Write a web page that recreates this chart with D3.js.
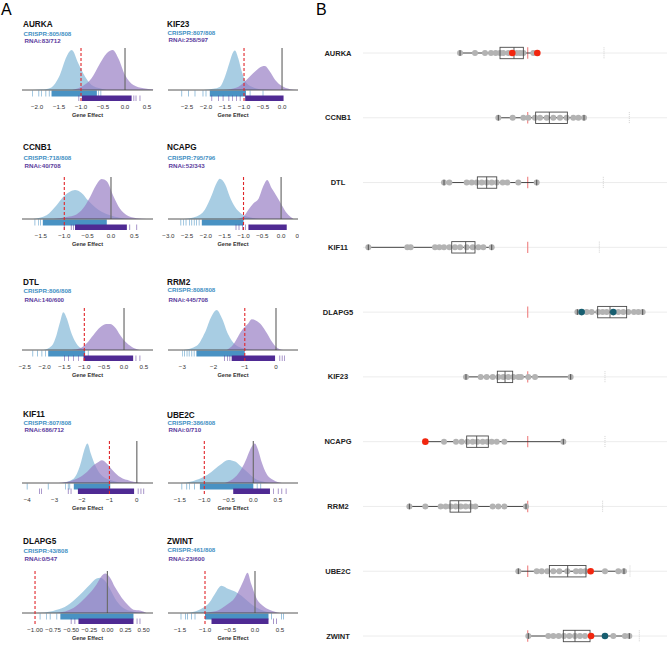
<!DOCTYPE html>
<html><head><meta charset="utf-8">
<script src="https://cdn.jsdelivr.net/npm/d3@7"></script>
<style>body{margin:0;background:#fff} svg{display:block;font-family:"Liberation Sans",Arial,sans-serif}</style>
</head><body><svg id="c" width="669" height="645"></svg>
<script>
// ---------------- Panel A data ----------------
const genesA = ["AURKA","KIF23","CCNB1","NCAPG","DTL","RRM2","KIF11","UBE2C","DLAPG5","ZWINT"];
const crisprCounts = ["805/808","807/808","718/808","795/796","806/808","808/808","807/808","386/808","43/808","461/808"];
const rnaiCounts = ["83/712","258/597","40/708","52/343","140/600","445/708","686/712","0/710","0/547","23/600"];
const xDomains = [[-2.341,0.636],[-3.0,0.42],[-1.906,0.9],[-3.01,0.45],[-2.57,0.73],[-3.46,0.705],[-4.19,0.59],[-1.741,0.912],[-1.18,0.63],[-1.74,0.86]];
const xTicks = [
  [-2,-1.5,-1,-0.5,0,0.5],[-2.5,-2,-1.5,-1,-0.5,0],[-1.5,-1,-0.5,0,0.5],[-3,-2.5,-2,-1.5,-1,-0.5,0,0.5],
  [-2.5,-2,-1.5,-1,-0.5,0,0.5],[-3,-2,-1,0],[-4,-3,-2,-1,0],[-1.5,-1,-0.5,0,0.5],
  [-1,-0.75,-0.5,-0.25,0,0.25,0.5],[-1.5,-1,-0.5,0,0.5]];
const tickFormats = [".1f",".1f",".1f",".1f",".1f","d","d",".1f",".2f",".1f"];
const thresholdA = -1;
const crisprDensity = [
  [[-2.1,0],[-1.9,0.01],[-1.7,0.05],[-1.48,0.36],[-1.33,0.79],[-1.21,0.95],[-1.06,0.63],[-0.91,0.32],[-0.76,0.12],[-0.57,0.04],[-0.42,0]],
  [[-2.07,0],[-1.81,0.03],[-1.63,0.08],[-1.5,0.32],[-1.39,0.63],[-1.28,0.91],[-1.24,0.94],[-1.15,0.75],[-1.06,0.44],[-0.93,0.16],[-0.75,0.06],[-0.49,0.01],[-0.14,0]],
  [[-1.67,0],[-1.38,0.09],[-1.17,0.32],[-1.03,0.52],[-0.88,0.65],[-0.77,0.69],[-0.63,0.62],[-0.49,0.44],[-0.34,0.28],[-0.2,0.17],[-0.02,0.09],[0.19,0.03],[0.41,0]],
  [[-2.6,0],[-2.25,0.06],[-2.03,0.22],[-1.85,0.56],[-1.71,0.87],[-1.63,0.96],[-1.49,0.83],[-1.36,0.52],[-1.23,0.29],[-1.05,0.12],[-0.83,0.04],[-0.56,0]],
  [[-2.03,0],[-1.82,0.1],[-1.7,0.36],[-1.61,0.67],[-1.53,0.9],[-1.44,0.75],[-1.34,0.44],[-1.23,0.2],[-1.11,0.06],[-0.86,0]],
  [[-2.97,0],[-2.54,0.1],[-2.28,0.41],[-2.06,0.81],[-1.9,0.95],[-1.74,0.77],[-1.53,0.37],[-1.31,0.13],[-1.05,0.04],[-0.73,0]],
  [[-2.74,0],[-2.31,0.1],[-2.07,0.42],[-1.92,0.78],[-1.8,0.94],[-1.68,0.7],[-1.52,0.42],[-1.34,0.22],[-1.09,0.1],[-0.85,0.05],[-0.49,0]],
  [[-1.5,0],[-1.22,0.05],[-1.02,0.14],[-0.85,0.27],[-0.68,0.43],[-0.51,0.55],[-0.37,0.51],[-0.24,0.38],[-0.1,0.24],[0.03,0.11],[0.17,0.04],[0.34,0]],
  [[-0.98,0],[-0.75,0.05],[-0.59,0.14],[-0.45,0.32],[-0.33,0.52],[-0.24,0.68],[-0.15,0.82],[-0.1,0.84],[-0.03,0.76],[0.04,0.56],[0.13,0.28],[0.22,0.12],[0.34,0.04],[0.45,0]],
  [[-1.37,0],[-1.17,0.05],[-1.03,0.13],[-0.9,0.27],[-0.8,0.46],[-0.67,0.65],[-0.53,0.57],[-0.4,0.51],[-0.27,0.41],[-0.13,0.27],[0,0.15],[0.13,0.07],[0.33,0]]
];
const rnaiDensity = [
  [[-1.2,0],[-0.95,0.1],[-0.76,0.28],[-0.57,0.63],[-0.42,0.87],[-0.28,0.95],[-0.15,0.75],[0,0.36],[0.19,0.12],[0.42,0.04],[0.64,0.01]],
  [[-1.54,0],[-1.19,0.06],[-0.97,0.21],[-0.84,0.33],[-0.71,0.44],[-0.53,0.56],[-0.45,0.57],[-0.32,0.44],[-0.18,0.24],[-0.01,0.1],[0.21,0.02],[0.39,0]],
  [[-1.24,0],[-0.95,0.05],[-0.74,0.11],[-0.6,0.25],[-0.45,0.52],[-0.31,0.82],[-0.2,0.95],[-0.09,0.9],[0.05,0.55],[0.19,0.25],[0.34,0.09],[0.55,0.02],[0.77,0]],
  [[-1.18,0],[-1.0,0.06],[-0.87,0.22],[-0.74,0.37],[-0.6,0.48],[-0.47,0.79],[-0.37,0.93],[-0.25,0.73],[-0.13,0.56],[0.02,0.33],[0.15,0.14],[0.33,0]],
  [[-1.32,0],[-1.11,0.04],[-0.94,0.16],[-0.77,0.36],[-0.6,0.54],[-0.44,0.62],[-0.35,0.62],[-0.23,0.54],[-0.1,0.36],[0.03,0.2],[0.19,0.08],[0.4,0]],
  [[-1.58,0],[-1.37,0.13],[-1.21,0.33],[-1.05,0.51],[-0.89,0.63],[-0.78,0.73],[-0.62,0.69],[-0.46,0.59],[-0.3,0.41],[-0.14,0.21],[0.02,0.06],[0.23,0]],
  [[-2.86,0],[-2.19,0.1],[-1.82,0.26],[-1.58,0.42],[-1.4,0.5],[-1.28,0.54],[-1.09,0.46],[-0.85,0.28],[-0.61,0.14],[-0.24,0.05],[0.24,0]],
  [[-0.58,0],[-0.37,0.14],[-0.24,0.34],[-0.14,0.58],[-0.07,0.78],[0.03,0.94],[0.1,0.78],[0.17,0.5],[0.27,0.22],[0.41,0.07],[0.58,0]],
  [[-0.7,0],[-0.47,0.12],[-0.33,0.32],[-0.24,0.48],[-0.15,0.68],[-0.08,0.88],[-0.03,0.94],[0.03,0.86],[0.11,0.6],[0.2,0.36],[0.29,0.18],[0.36,0.08],[0.45,0.06],[0.54,0]],
  [[-1.1,0],[-0.77,0.05],[-0.57,0.19],[-0.4,0.37],[-0.3,0.59],[-0.22,0.8],[-0.15,0.96],[-0.07,0.67],[0.03,0.35],[0.17,0.16],[0.3,0.07],[0.5,0]]
];
const crisprRugBand = [[-1.67,-0.64],[-1.9,-0.95],[-1.46,-0.09],[-2.11,-1.0],[-1.91,-0.98],[-2.55,-1.0],[-2.3,-0.97],[-1.09,0.0],[-0.65,0.36],[-1.0,0.27]];
const crisprRugTicks = [
  [-2.1,-1.96,-1.9,-1.8,-1.72,-0.6,-0.55],[-2.64,-2.46,-2.29,-2.08,-2.0,-0.84,-0.5],[-1.63,-1.55,-1.51],
  [-2.67,-2.6,-2.53,-2.44,-2.38,-2.31,-2.25,-2.18],[-2.3,-2.18,-2.07,-1.98,-0.9],[-3.0,-2.93,-2.85,-2.78,-2.7,-2.62],
  [-4.0,-3.23,-2.6,-2.5,-2.45],[-1.46,-1.36,-1.3,-1.2,0.08,0.15],[-0.93,-0.84,-0.79,-0.7],[-1.48,-1.39,-1.35,-1.27,-1.2,0.33,0.53,0.57]];
const rnaiRugBand = [[-0.98,0.15],[-0.97,0.04],[-0.77,0.34],[-0.87,0.15],[-1.02,0.23],[-1.42,-0.03],[-2.15,-0.1],[-0.41,0.34],[-0.4,0.36],[-0.87,0.27]];
const rnaiRugTicks = [
  [-1.05,0.2,0.25,0.34],[-1.85,-1.67,-1.55,-1.4,-1.3,-1.2,-1.1],[-1.0,-0.85,-0.8,0.4,0.55],[-1.2,-1.12,-1.03,-0.95],
  [-1.5,-1.4,-1.27,-1.15,0.3,0.4],[-1.65,-1.55,-1.48,0.12,0.2,0.27],[-3.55,-3.48,-2.5,-2.4,0.05,0.15,0.25],
  [0.41,0.51,0.58,0.67],[-0.5,-0.45,0.41,0.45],[0.37,0.43]];

// ---------------- Panel B data ----------------
const genesB = ["AURKA","CCNB1","DTL","KIF11","DLAPG5","KIF23","NCAPG","RRM2","UBE2C","ZWINT"];
const boxStats = [ // min, q1, median, q3, max
  [-1.887,-1.363,-1.18,-1.057,-0.874],[-1.385,-0.896,-0.716,-0.48,-0.262],[-2.097,-1.66,-1.538,-1.406,-0.882],
  [-3.089,-1.996,-1.813,-1.691,-1.472],[-0.349,-0.083,0.079,0.297,0.507],[-1.809,-1.398,-1.297,-1.197,-0.437],
  [-2.342,-1.8,-1.669,-1.516,-0.533],[-2.551,-2.018,-1.905,-1.747,-1.022],[-1.123,-0.716,-0.476,-0.236,0.262],
  [-0.992,-0.533,-0.38,-0.183,0.332]];
const pointsB = [
  [-1.887,-1.691,-1.56,-1.481,-1.42,-1.363,-1.32,-1.254,-1.144,-1.101,-1.057,-0.926],
  [-1.385,-1.197,-1.057,-0.992,-0.904,-0.839,-0.751,-0.664,-0.577,-0.489,-0.402,-0.336,-0.262],
  [-2.097,-2.027,-1.8,-1.734,-1.669,-1.603,-1.538,-1.472,-1.406,-1.328,-1.267,-1.123,-0.882],
  [-3.089,-2.578,-2.534,-2.215,-2.158,-2.097,-2.027,-1.953,-1.887,-1.8,-1.721,-1.647,-1.582,-1.472],
  [-0.349,-0.227,-0.162,-0.074,-0.018,0.035,0.188,0.253,0.319,0.393,0.45,0.507],
  [-1.809,-1.616,-1.538,-1.459,-1.385,-1.32,-1.254,-1.188,-1.123,-1.088,-0.992,-0.904,-0.437],
  [-2.097,-1.94,-1.865,-1.791,-1.721,-1.66,-1.59,-1.529,-1.472,-1.406,-1.306,-0.533],
  [-2.551,-2.342,-2.141,-2.075,-2.01,-1.944,-1.878,-1.813,-1.747,-1.686,-1.459,-1.385,-1.306,-1.022],
  [-1.123,-0.882,-0.817,-0.743,-0.664,-0.586,-0.481,-0.367,-0.306,-0.245,0.013,0.188,0.262],
  [-0.992,-0.73,-0.664,-0.594,-0.524,-0.454,-0.38,-0.315,-0.249,0.122,0.275,0.332]];
const redPointsB = [[-1.202,-0.874],[],[],[],[],[],[-2.342],[],[-0.175],[-0.17]];
const tealPointsB = [[],[],[],[],[-0.293,0.122],[],[],[],[],[0.013]];
const dottedRefB = [0,0.332,-0.009,-0.061,null,0.013,0.013,-0.018,0.341,0.463];
const thresholdB = -1;

// ---------------- Drawing ----------------
const svg = d3.select("#c");
const C_BLUE = "#7fb6d6", C_PURP = "#957bc3", C_BLUE_RUG = "#3586bd", C_PURP_RUG = "#4f2a93";
const C_BLUE_TXT = "#3f8fc3", C_PURP_TXT = "#5b3b9d";

svg.append("text").attr("x",1).attr("y",15).attr("font-size",16).text("A");
svg.append("text").attr("x",316).attr("y",15).attr("font-size",16).text("B");

const colX = [[22,153],[168,298]];
const textX = [23,167];
const baseY = [90,219,350,483,613];
const titleY = [[27,150,285,417,544],[27,149.7,284.7,417.5,544]];
const crY = [[35.5,159.5,293,424.5,552.5],[34.8,159.5,292.3,425,551.5]];
const rnY = [[43,168,302,432,561],[42.3,168,302.2,432.3,560.5]];
const H = 42;
const defs = svg.append("defs");

genesA.forEach((g,i)=>{
  const col = i%2, row = Math.floor(i/2);
  const b = baseY[row], top = b - H;
  const x = d3.scaleLinear().domain(xDomains[i]).range(colX[col]);
  const y = d3.scaleLinear().domain([0,1]).range([b, top]);
  const grp = svg.append("g");
  const area = d3.area().x(d=>x(d[0])).y0(b).y1(d=>y(d[1])).curve(d3.curveMonotoneX);
  grp.append("path").attr("d",area(crisprDensity[i])).attr("fill",C_BLUE).attr("fill-opacity",0.68);
  grp.append("path").attr("d",area(rnaiDensity[i])).attr("fill",C_PURP).attr("fill-opacity",0.68);
  grp.append("line").attr("x1",x(0)).attr("x2",x(0)).attr("y1",top).attr("y2",b).attr("stroke","#6d6d6d").attr("stroke-width",1.2);
  const cb = crisprRugBand[i], rb = rnaiRugBand[i];
  grp.append("rect").attr("x",x(cb[0])).attr("width",x(cb[1])-x(cb[0])).attr("y",b+0.5).attr("height",6).attr("fill",C_BLUE_RUG).attr("opacity",0.9);
  grp.selectAll(".ct").data(crisprRugTicks[i]).enter().append("line")
    .attr("x1",d=>x(d)).attr("x2",d=>x(d)).attr("y1",b+0.5).attr("y2",b+6.5).attr("stroke",C_BLUE_RUG).attr("stroke-width",0.7).attr("opacity",0.7);
  grp.append("rect").attr("x",x(rb[0])).attr("width",x(rb[1])-x(rb[0])).attr("y",b+5.5).attr("height",5.5).attr("fill",C_PURP_RUG);
  grp.selectAll(".rt").data(rnaiRugTicks[i]).enter().append("line")
    .attr("x1",d=>x(d)).attr("x2",d=>x(d)).attr("y1",b+5.5).attr("y2",b+11).attr("stroke",C_PURP_RUG).attr("stroke-width",0.7).attr("opacity",0.7);
  grp.append("line").attr("x1",colX[col][0]).attr("x2",colX[col][1]).attr("y1",b).attr("y2",b).attr("stroke","#444").attr("stroke-width",0.9);
  grp.append("line").attr("x1",x(thresholdA)).attr("x2",x(thresholdA)).attr("y1",top).attr("y2",b+11)
    .attr("stroke","#e0262a").attr("stroke-width",1.1).attr("stroke-dasharray","3,2");
  const cid = "clip"+i;
  defs.append("clipPath").attr("id",cid).append("rect").attr("x",colX[col][0]-20).attr("y",b).attr("width",colX[col][1]-colX[col][0]+21).attr("height",30);
  const fmt = d3.format(tickFormats[i]);
  grp.append("g").attr("clip-path",`url(#${cid})`).selectAll("text").data(xTicks[i]).enter().append("text")
    .attr("x",d=>x(d)).attr("y",b+19).attr("text-anchor","middle").attr("font-size",6.2).attr("fill","#333").text(d=>fmt(d));
  grp.append("text").attr("x",(colX[col][0]+colX[col][1])/2).attr("y",b+27).attr("text-anchor","middle")
    .attr("font-size",5.6).attr("font-weight","bold").attr("fill","#333").text("Gene Effect");
  grp.append("text").attr("x",textX[col]).attr("y",titleY[col][row]).attr("font-size",8.2).attr("font-weight","bold").attr("fill","#111").text(g);
  grp.append("text").attr("x",textX[col]+0.5).attr("y",crY[col][row]).attr("font-size",6.2).attr("font-weight","bold").attr("fill",C_BLUE_TXT).text("CRISPR:"+crisprCounts[i]);
  grp.append("text").attr("x",textX[col]+1.5).attr("y",rnY[col][row]).attr("font-size",6.2).attr("font-weight","bold").attr("fill",C_PURP_TXT).text("RNAi:"+rnaiCounts[i]);
});

// Panel B
const xB = d3.scaleLinear().domain([-3.159,0.826]).range([363,667]);
const yB = d3.scalePoint().domain(genesB).range([53,636]);
const bh = 5.7;
genesB.forEach((g,i)=>{
  const cy = yB(g);
  const s = boxStats[i];
  const grp = svg.append("g");
  grp.append("line").attr("x1",363).attr("x2",667).attr("y1",cy).attr("y2",cy).attr("stroke","#ececec").attr("stroke-width",1);
  grp.append("text").attr("x",338).attr("y",cy+2.6).attr("text-anchor","middle").attr("font-size",7.5).attr("font-weight","bold").attr("fill","#222").text(g);
  if (dottedRefB[i] !== null) grp.append("line").attr("x1",xB(dottedRefB[i])).attr("x2",xB(dottedRefB[i])).attr("y1",cy-bh).attr("y2",cy+bh)
    .attr("stroke","#c8c8c8").attr("stroke-width",0.8).attr("stroke-dasharray","1,1");
  grp.append("line").attr("x1",xB(thresholdB)).attr("x2",xB(thresholdB)).attr("y1",cy-bh).attr("y2",cy+bh).attr("stroke","#f08a8a").attr("stroke-width",1.2);
  grp.append("line").attr("x1",xB(s[0])).attr("x2",xB(s[4])).attr("y1",cy).attr("y2",cy).attr("stroke","#333").attr("stroke-width",0.9);
  grp.selectAll(".p").data(pointsB[i]).enter().append("circle").attr("cx",d=>xB(d)).attr("cy",cy).attr("r",3).attr("fill","#b3b3b3");
  grp.append("rect").attr("x",xB(s[1])).attr("width",xB(s[3])-xB(s[1])).attr("y",cy-bh).attr("height",2*bh)
    .attr("fill","none").attr("stroke","#4a4a4a").attr("stroke-width",0.9);
  grp.append("line").attr("x1",xB(s[2])).attr("x2",xB(s[2])).attr("y1",cy-bh).attr("y2",cy+bh).attr("stroke","#4a4a4a").attr("stroke-width",0.9);
  [s[0],s[4]].forEach(v=>grp.append("line").attr("x1",xB(v)).attr("x2",xB(v)).attr("y1",cy-2.8).attr("y2",cy+2.8).attr("stroke","#444").attr("stroke-width",0.9));
  grp.selectAll(".r").data(redPointsB[i]).enter().append("circle").attr("cx",d=>xB(d)).attr("cy",cy).attr("r",3.3).attr("fill","#f2260f");
  grp.selectAll(".t").data(tealPointsB[i]).enter().append("circle").attr("cx",d=>xB(d)).attr("cy",cy).attr("r",3.3).attr("fill","#175e70");
});
</script></body></html>
